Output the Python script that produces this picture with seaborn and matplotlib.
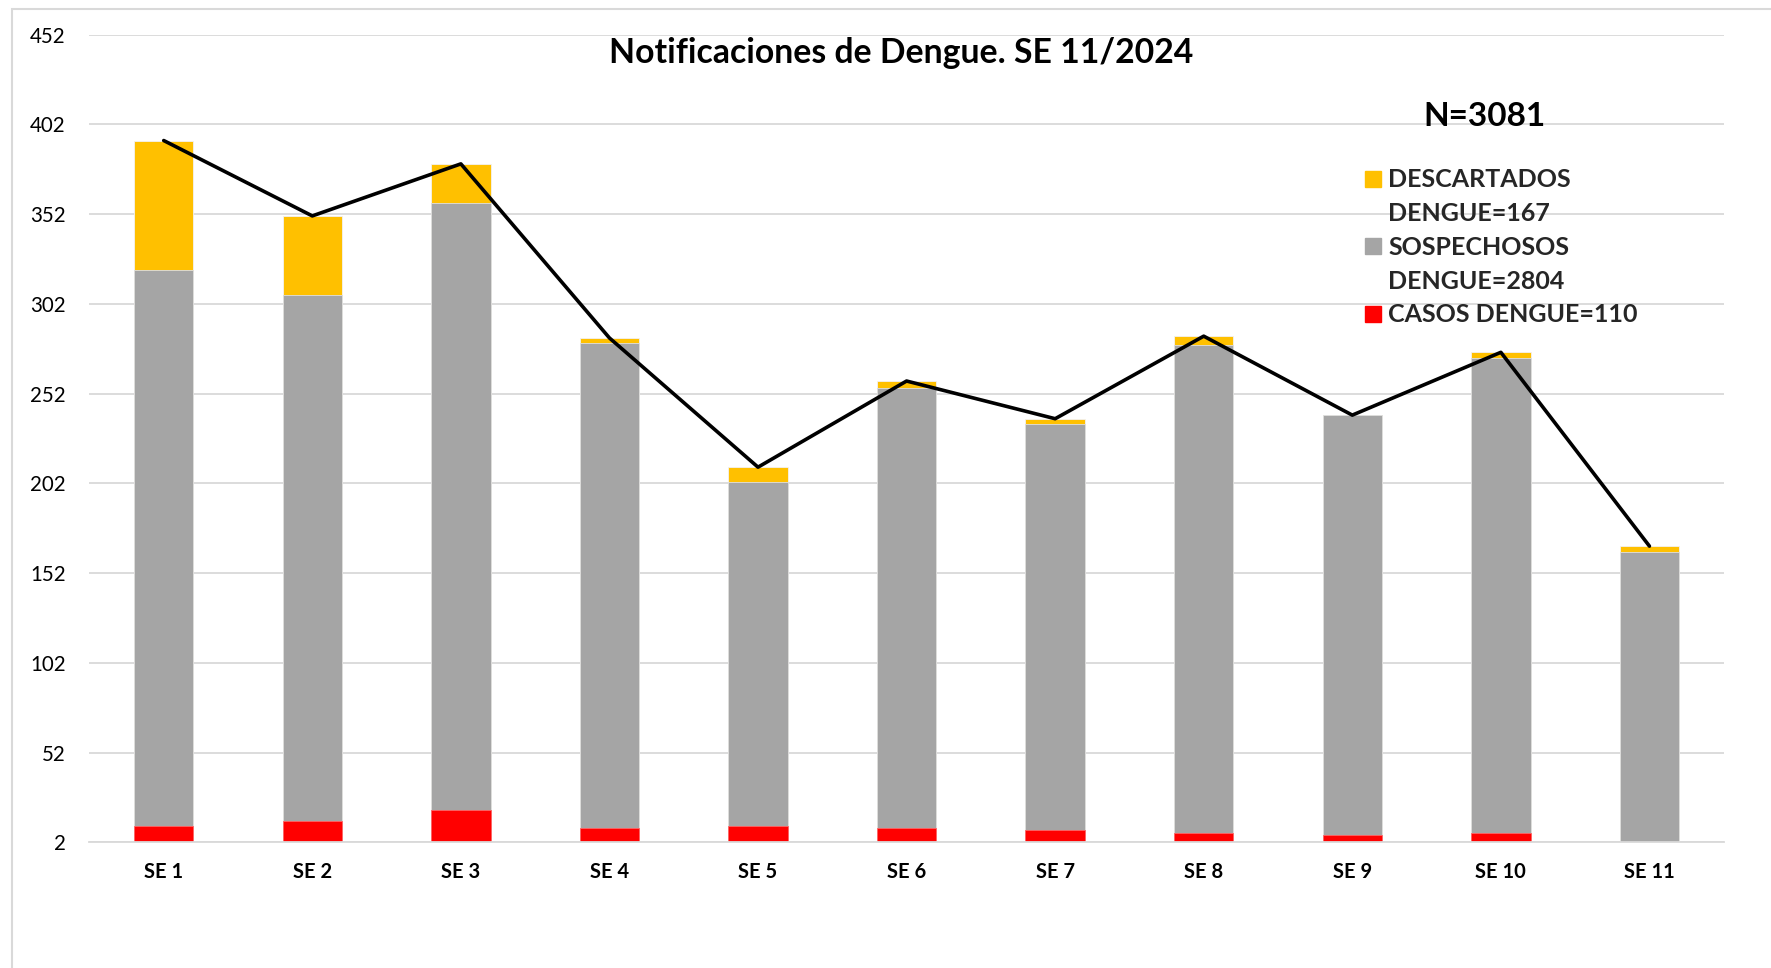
import numpy as np
import matplotlib
matplotlib.use('Agg')
import matplotlib.pyplot as plt
from matplotlib.patches import Patch, Rectangle
import seaborn as sns

sns.set_theme(style='white')
plt.rcParams['font.family'] = ['Lato', 'DejaVu Sans']

# semanas epidemiologicas y valores
weeks = ['SE 1', 'SE 2', 'SE 3', 'SE 4', 'SE 5', 'SE 6', 'SE 7', 'SE 8', 'SE 9', 'SE 10', 'SE 11']
casos = [11, 14, 20, 10, 11, 10, 9, 7, 6, 7, 0]
sospechosos = [310, 293, 338, 270, 192, 245, 226, 272, 234, 265, 164]
descartados = [72, 44, 22, 3, 8, 4, 3, 5, 0, 3, 3]

YELLOW = '#FFC000'
GRAY = '#A5A5A5'
RED = '#FF0000'
GRID = '#D9D9D9'

casos = np.array(casos)
sosp_top = casos + np.array(sospechosos)
totals = sosp_top + np.array(descartados)

fig = plt.figure(figsize=(17.71, 9.68), dpi=100)
ax = fig.add_axes([0.0505, 0.1299, 0.9228, 0.8343])

# barras apiladas: se dibuja el total y encima los tramos inferiores
sns.barplot(x=weeks, y=totals, color=YELLOW, saturation=1, width=0.4,
            errorbar=None, edgecolor='#F2F2F2', linewidth=0.6, ax=ax)
sns.barplot(x=weeks, y=sosp_top, color=GRAY, saturation=1, width=0.4,
            errorbar=None, edgecolor='#E0E0E0', linewidth=0.6, ax=ax)
sns.barplot(x=weeks, y=casos, color=RED, saturation=1, width=0.4,
            errorbar=None, edgecolor='#FF6666', linewidth=0.6, ax=ax)
sns.lineplot(x=np.arange(len(weeks)), y=totals, color='black', linewidth=2.6, ax=ax)

ax.set_xlim(-0.5, len(weeks) - 0.5)
ax.set_ylim(2, 452)
ax.set_yticks(np.arange(2, 453, 50))
ax.yaxis.grid(True, color=GRID, linewidth=1.3)
ax.set_axisbelow(True)
for s in ['left', 'right', 'top']:
    ax.spines[s].set_visible(False)
ax.spines['bottom'].set_color(GRID)
ax.spines['bottom'].set_linewidth(1.3)
ax.set_xlabel('')
ax.set_ylabel('')
ax.tick_params(axis='y', length=0, pad=17, labelsize=14.8, labelcolor='black')
ax.tick_params(axis='x', length=0, pad=14.5, labelsize=14.5, labelcolor='black')
for lab in ax.get_xticklabels():
    lab.set_fontweight('bold')

fig.text(0.509, 0.9455, 'Notificaciones de Dengue. SE 11/2024', ha='center', va='center',
         fontsize=24.3, fontweight='bold', color='black')
fig.text(0.838, 0.8795, 'N=3081', ha='center', va='center',
         fontsize=24, fontweight='bold', color='black')

handles = [Patch(color=YELLOW), Patch(color='none'), Patch(color=GRAY),
           Patch(color='none'), Patch(color=RED)]
labels = ['DESCARTADOS', 'DENGUE=167', 'SOSPECHOSOS', 'DENGUE=2804', 'CASOS DENGUE=110']
fig.legend(handles, labels, loc='upper left', bbox_to_anchor=(0.7708, 0.826),
           frameon=False, borderpad=0, borderaxespad=0,
           prop={'size': 18, 'weight': 'bold'},
           handlelength=0.62, handleheight=0.62, handletextpad=0.3, labelspacing=0.43)

fig.add_artist(Rectangle((11.5 / 1771, -0.1), 1.2, 1.1 - 9 / 968, transform=fig.transFigure,
                         fill=False, edgecolor=GRID, linewidth=1.5))

fig.savefig('out.png', dpi=100)
